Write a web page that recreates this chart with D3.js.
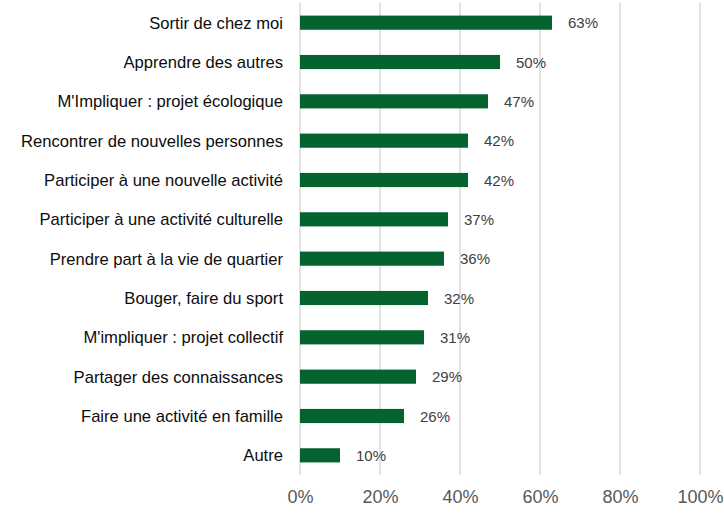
<!DOCTYPE html>
<html>
<head>
<meta charset="utf-8">
<script src="https://cdn.jsdelivr.net/npm/d3@7"></script>
<style>
  body { margin: 0; background: #fff; }
  text { font-family: "Liberation Sans", Arial, sans-serif; }
</style>
</head>
<body>
<svg></svg>
<script>
var w = 724;
var h = 513;

var svg = d3.select("svg")
            .attr("width", w)
            .attr("height", h);

// motivations and share of answers
var categories = [
  "Sortir de chez moi",
  "Apprendre des autres",
  "M'Impliquer : projet écologique",
  "Rencontrer de nouvelles personnes",
  "Participer à une nouvelle activité",
  "Participer à une activité culturelle",
  "Prendre part à la vie de quartier",
  "Bouger, faire du sport",
  "M'impliquer : projet collectif",
  "Partager des connaissances",
  "Faire une activité en famille",
  "Autre"
];
var values = [63, 50, 47, 42, 42, 37, 36, 32, 31, 29, 26, 10];
var ticks = [0, 20, 40, 60, 80, 100];

var xScale = d3.scaleLinear()
               .domain([0, 100])
               .range([300, 700]);

var yScale = d3.scaleBand()
               .domain(categories)
               .range([3, 475])
               .paddingInner(0.64)
               .paddingOuter(0.32);

// gridlines
svg.selectAll(".grid")
  .data(ticks)
  .join("line")
    .attr("class", "grid")
    .attr("x1", function(d){ return xScale(d); })
    .attr("x2", function(d){ return xScale(d); })
    .attr("y1", 3)
    .attr("y2", 475)
    .attr("stroke", "#d9d9d9")
    .attr("stroke-width", 1.5);

// bars
svg.selectAll(".bar")
  .data(values)
  .join("rect")
    .attr("class", "bar")
    .attr("x", xScale(0))
    .attr("y", function(d, i){ return yScale(categories[i]); })
    .attr("width", function(d){ return xScale(d) - xScale(0); })
    .attr("height", yScale.bandwidth())
    .attr("fill", "#04632e");

// value labels
svg.selectAll(".val")
  .data(values)
  .join("text")
    .attr("class", "val")
    .attr("x", function(d){ return xScale(d) + 16; })
    .attr("y", function(d, i){ return yScale(categories[i]) + yScale.bandwidth() / 2; })
    .attr("dy", "0.38em")
    .style("font-size", "15px")
    .style("fill", "#404040")
    .text(function(d){ return d + "%"; });

// category labels
var yAxis = d3.axisLeft(yScale).tickSize(0).tickPadding(17);
var gy = svg.append("g")
    .attr("transform", "translate(300,0)")
    .call(yAxis);
gy.select(".domain").remove();
gy.selectAll("text")
    .attr("dy", "0.36em")
    .style("font-size", "16.6px")
    .style("font-family", "'Liberation Sans', Arial, sans-serif")
    .style("fill", "#0d0d0d");

// x axis tick labels
var xAxis = d3.axisBottom(xScale)
              .tickValues(ticks)
              .tickSize(0)
              .tickPadding(0)
              .tickFormat(function(d){ return d + "%"; });
var gx = svg.append("g")
    .attr("transform", "translate(0,490)")
    .call(xAxis);
gx.select(".domain").remove();
gx.selectAll("text")
    .style("font-size", "18px")
    .style("font-family", "'Liberation Sans', Arial, sans-serif")
    .style("fill", "#595959");
</script>
</body>
</html>
